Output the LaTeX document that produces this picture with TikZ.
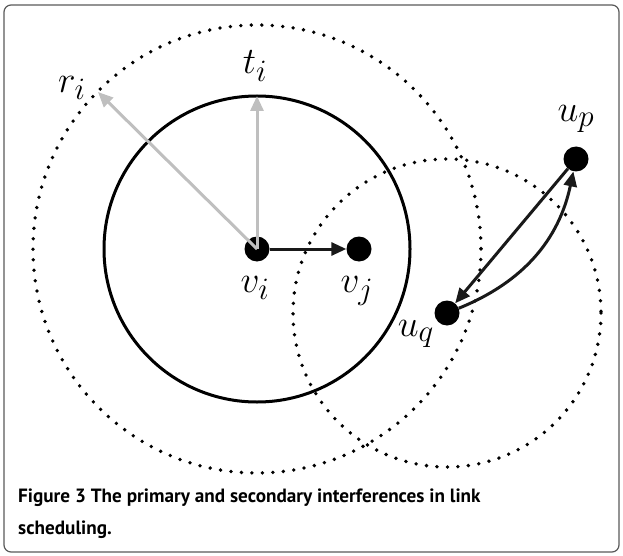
\documentclass[tikz,border=0pt]{standalone}
\usepackage{fontspec}
\setsansfont{PT Sans}
\usetikzlibrary{arrows.meta, positioning, calc}
\newcommand{\biglbl}[1]{\scalebox{1.5}{$#1$}}

\begin{document}
\begin{tikzpicture}[
        x=1pt, y=-1pt,
        dot/.style={circle, fill=black, draw=none, minimum size=25pt, inner sep=0pt},
        lbl/.style={font=\fontsize{24.88}{30}\selectfont, inner sep=0pt},
        txring/.style={draw=black, line width=3pt},
        ifring/.style={draw=black, line width=3.8pt, line cap=round, dash pattern=on 0pt off 10.5pt},
        link/.style={-{Triangle[length=15pt, width=13pt]}, line width=3pt, draw=black!90},
        reach/.style={-{Triangle[length=15pt, width=13pt]}, line width=3pt, draw=black!25}
      ]
      \useasboundingbox (0,0) rectangle (623,556);
      \draw[draw=black!65, line width=1.2pt, rounded corners=7pt] (4,5) rectangle (619,552);

      % nodes
      \node[dot] (vi) at (257,249) {};
      \node[dot] (vj) at (359,249) {};
      \node[dot] (up) at (576,159) {};
      \node[dot] (uq) at (447,313) {};
      \coordinate (rtip) at (98,92);
      \coordinate (ttip) at (257,96);

      % rings
      \draw[txring] (vi) circle (153);
      \draw[ifring] (vi) circle (224);
      \draw[ifring] (uq) circle (154);

      % radii
      \draw[reach] (vi.center) -- (rtip);
      \draw[reach] (vi.center) -- (ttip);

      % links
      \draw[link] (vi) -- (vj);
      \draw[link] (up) -- (uq);
      \draw[link] (uq) to[bend right=28] (up);

      % labels
      \node[lbl] (rlbl) at (72,88) {\biglbl{r_i}};
      \node[lbl] (tlbl) at (255,66) {\biglbl{t_i}};
      \node[lbl] (vilbl) at (255,288) {\biglbl{v_i}};
      \node[lbl] (vjlbl) at (357,291) {\biglbl{v_j}};
      \node[lbl] (uplbl) at (576,119) {\biglbl{u_p}};
      \node[lbl] (uqlbl) at (416,334) {\biglbl{u_q}};

      \node[anchor=north west, align=left, inner sep=0pt,
            font=\sffamily\bfseries\fontsize{19.2}{32}\selectfont] (cap) at (18,489)
        {Figure 3 The primary and secondary interferences in link\\scheduling.};
\end{tikzpicture}
\end{document}
